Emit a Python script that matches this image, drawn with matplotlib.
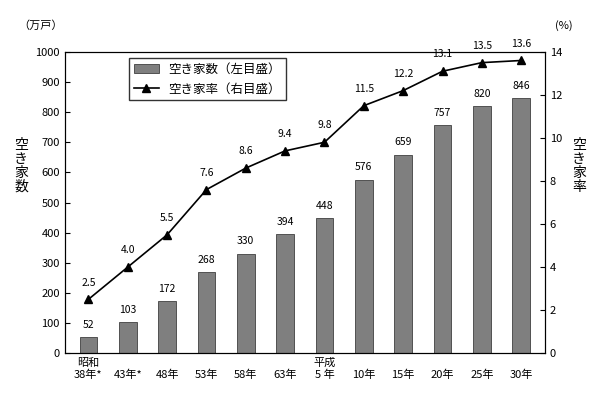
import matplotlib
matplotlib.use("Agg")
import matplotlib.pyplot as plt

plt.rcParams["font.family"] = "Noto Sans CJK JP"

years = ["38年*", "43年*", "48年", "53年", "58年", "63年", "5 年", "10年", "15年", "20年", "25年", "30年"]
eras = ["昭和", "", "", "", "", "", "平成", "", "", "", "", ""]
vacant = [52, 103, 172, 268, 330, 394, 448, 576, 659, 757, 820, 846]
rate = [2.5, 4.0, 5.5, 7.6, 8.6, 9.4, 9.8, 11.5, 12.2, 13.1, 13.5, 13.6]

fig = plt.figure(figsize=(6, 4.15), dpi=100)
ax = fig.add_axes([0.108, 0.149, 0.8, 0.726])
ax2 = ax.twinx()

x = range(len(years))
ax.bar(x, vacant, width=0.45, color="#7f7f7f", edgecolor="#404040", linewidth=0.6, label="空き家数（左目盛）")
for i, v in enumerate(vacant):
    ax.text(i, v + 25, str(v), ha="center", va="bottom", fontsize=7.5)
ax.set_ylim(0, 1000)
ax.set_yticks(range(0, 1001, 100))
ax.set_xlim(-0.6, len(years) - 0.4)
ax.set_xticks(list(x))
ax.set_xticklabels([f"{e}\n{y}" for e, y in zip(eras, years)], fontsize=8)
ax.tick_params(axis="x", length=0)
ax.tick_params(axis="y", labelsize=8, direction="in")

ax2.plot(list(x), rate, color="black", marker="^", markersize=6, linewidth=1.2, label="空き家率（右目盛）")
for i, r in enumerate(rate):
    ax2.text(i, r + 0.55, f"{r:.1f}", ha="center", va="bottom", fontsize=7.5)
ax2.set_ylim(0, 14)
ax2.set_yticks(range(0, 15, 2))
ax2.tick_params(axis="y", labelsize=8, direction="in")

fig.text(0.03, 0.93, "（万戸）", fontsize=8)
fig.text(0.925, 0.93, "(%)", fontsize=8)
fig.text(0.035, 0.6, "空\nき\n家\n数", fontsize=10, ha="center", va="center", linespacing=1.0)
fig.text(0.965, 0.6, "空\nき\n家\n率", fontsize=10, ha="center", va="center", linespacing=1.0)

h1, l1 = ax.get_legend_handles_labels()
h2, l2 = ax2.get_legend_handles_labels()
ax.legend(h1 + h2, l1 + l2, loc="upper left", bbox_to_anchor=(0.12, 1.0), fontsize=9,
          frameon=True, edgecolor="black", fancybox=False)

fig.savefig("out.png")
